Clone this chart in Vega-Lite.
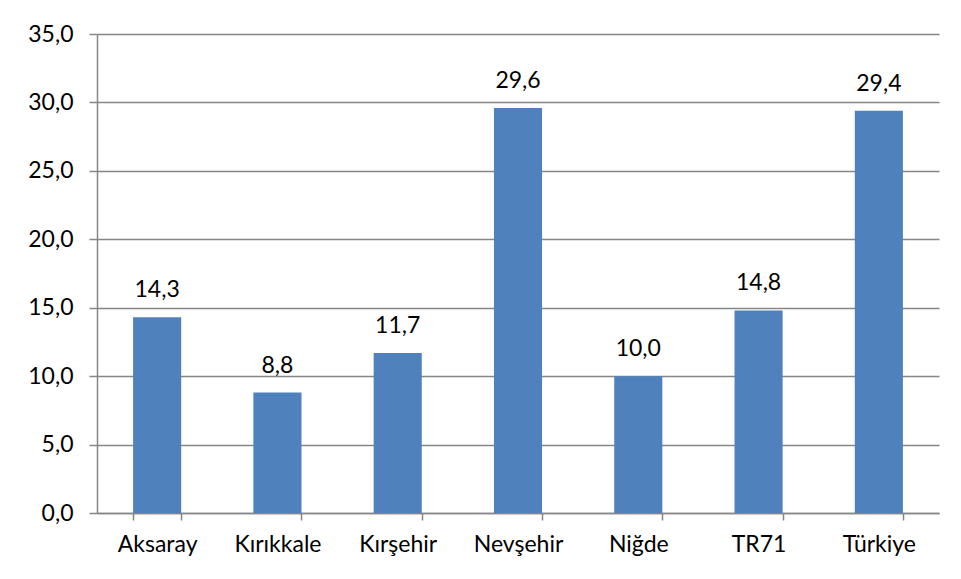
{
  "$schema": "https://vega.github.io/schema/vega-lite/v6.json",
  "width": 842,
  "height": 479,
  "autosize": "none",
  "padding": {"left": 97, "top": 34, "right": 22, "bottom": 66},
  "background": "white",
  "config": {
    "locale": {"number": {"decimal": ",", "thousands": ".", "grouping": [3], "currency": ["", " TL"]}},
    "view": {"stroke": null},
    "font": "Lato",
    "axis": {"labelFont": "Lato", "labelFontSize": 23, "labelColor": "#000000"}
  },
  "data": {
    "values": [
      {"region": "Aksaray", "value": 14.3},
      {"region": "Kırıkkale", "value": 8.8},
      {"region": "Kırşehir", "value": 11.7},
      {"region": "Nevşehir", "value": 29.6},
      {"region": "Niğde", "value": 10.0},
      {"region": "TR71", "value": 14.8},
      {"region": "Türkiye", "value": 29.4}
    ]
  },
  "encoding": {
    "x": {
      "field": "region", "type": "nominal", "sort": null,
      "scale": {"paddingInner": 0.6, "paddingOuter": 0.3},
      "axis": {
        "title": null, "labelAngle": 0, "tickBand": "extent",
        "domainColor": "#868686", "domainWidth": 1.5,
        "tickColor": "#868686", "tickWidth": 1.5, "tickSize": 7,
        "labelPadding": 13, "grid": false
      }
    },
    "y": {
      "field": "value", "type": "quantitative",
      "scale": {"domain": [0, 35], "nice": false},
      "axis": {
        "title": null, "values": [0, 5, 10, 15, 20, 25, 30, 35],
        "format": ".1f",
        "grid": true, "gridColor": "#868686", "gridWidth": 1.5,
        "domainColor": "#868686", "domainWidth": 1.5,
        "tickColor": "#868686", "tickWidth": 1.5, "tickSize": 8,
        "labelPadding": 16
      }
    }
  },
  "layer": [
    {"mark": {"type": "bar", "color": "#4F81BD"}},
    {
      "mark": {"type": "text", "baseline": "alphabetic", "dy": -20, "fontSize": 23, "font": "Lato", "color": "#000000"},
      "encoding": {"text": {"field": "value", "type": "quantitative", "format": ".1f"}}
    }
  ]
}
